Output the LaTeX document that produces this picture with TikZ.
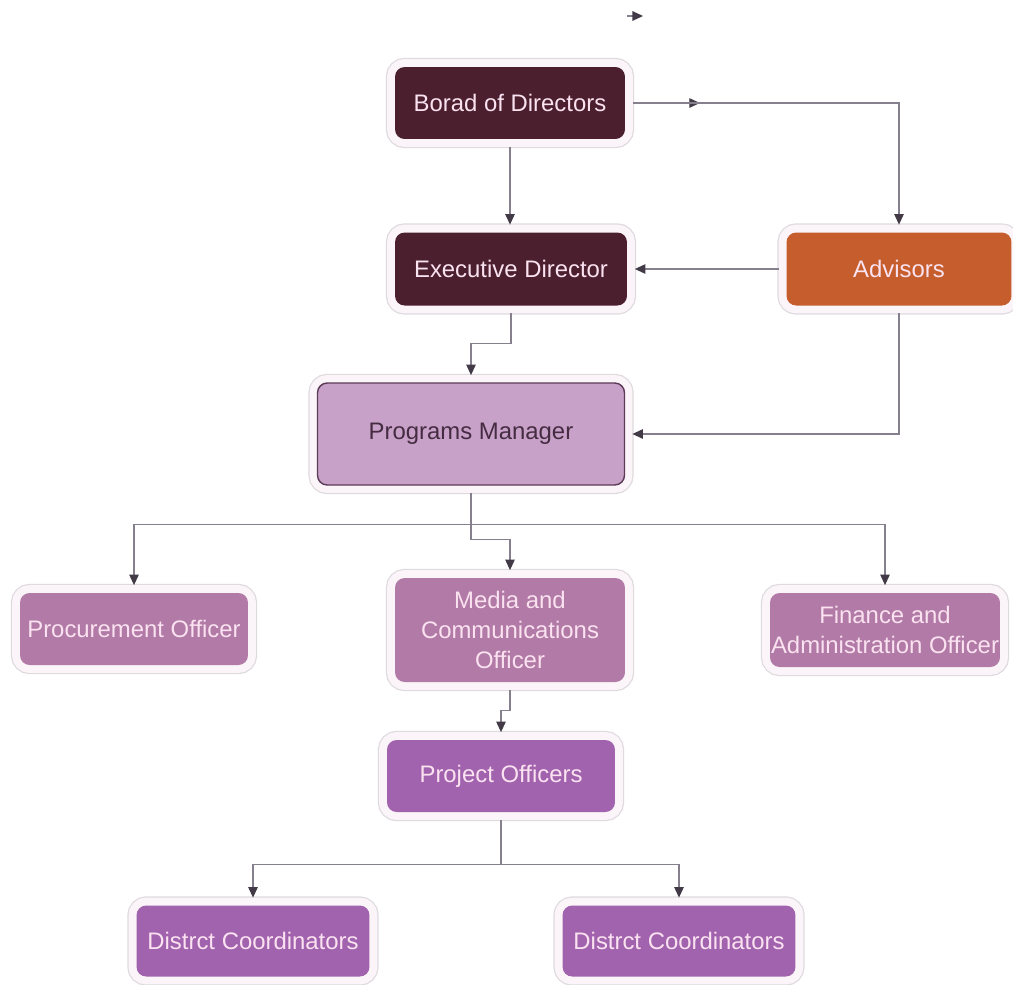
\documentclass[tikz,border=0pt]{standalone}
\usepackage{fontspec}
\setmainfont{Liberation Sans}
\usepackage{tikz}
\usetikzlibrary{arrows.meta}
\definecolor{darkbox}{RGB}{75,31,45}
\definecolor{advbox}{RGB}{197,94,44}
\definecolor{pmbox}{RGB}{200,161,200}
\definecolor{pmline}{RGB}{92,58,88}
\definecolor{midbox}{RGB}{178,122,166}
\definecolor{lowbox}{RGB}{162,99,174}
\definecolor{halofill}{RGB}{251,244,248}
\definecolor{haloedge}{RGB}{222,218,222}
\definecolor{connline}{RGB}{134,128,142}
\definecolor{conntip}{RGB}{66,58,70}
\definecolor{lighttext}{RGB}{250,226,240}
\tikzset{
	orgbox/.style={rectangle, rounded corners=5.5pt, inner sep=0pt, outer sep=4.5pt,
		minimum width=4.6cm, minimum height=1.44cm, align=center, text=lighttext,
		font=\fontsize{13.6}{17}\selectfont,
		preaction={draw=haloedge, line width=10.4pt},
		preaction={draw=halofill, line width=9pt}},
	conn/.style={draw=connline, line width=0.65pt,
		-{Triangle[length=6pt,width=5.4pt,color=conntip]}}
}

\begin{document}
\begin{tikzpicture}[x=0.02cm,y=-0.02cm]

	\useasboundingbox (0,0) rectangle (1013,984);

	% top rows
	\node[orgbox, fill=darkbox] (bod) at (510,103) {Borad of Directors};
	\node[orgbox, fill=darkbox, minimum width=4.64cm, minimum height=1.46cm] (exec) at (511,269) {Executive Director};
	\node[orgbox, fill=advbox, minimum width=4.5cm, minimum height=1.46cm] (adv) at (899,269) {Advisors};
	\node[orgbox, fill=pmbox, draw=pmline, line width=0.8pt, text=pmline!75!black,
		minimum width=6.14cm, minimum height=2.04cm] (pm) at (471,434) {Programs Manager};

	% officers
	\node[orgbox, fill=midbox, minimum width=4.56cm] (proc) at (134,629) {Procurement Officer};
	\node[orgbox, fill=midbox, minimum height=2.08cm] (media) at (510,630) {Media and\\Communications\\Officer};
	\node[orgbox, fill=midbox, minimum height=1.48cm] (fin) at (885,630) {Finance and\\Administration Officer};
	\node[orgbox, fill=lowbox, minimum width=4.56cm] (proj) at (501,776) {Project Officers};

	% district level
	\node[orgbox, fill=lowbox, minimum width=4.66cm, minimum height=1.42cm] (dc1) at (253,941) {Distrct Coordinators};
	\node[orgbox, fill=lowbox, minimum width=4.66cm, minimum height=1.42cm] (dc2) at (679,941) {Distrct Coordinators};

	\coordinate (stray) at (627,16);
	\draw[conn] (stray) -- ++(16,0);

	\draw[conn] (bod.south) -- (bod.south |- exec.north);
	\draw[conn] (bod.east) -- ++(67,0);
	\draw[conn] (bod.east) -| (adv.north);
	\draw[conn] (adv.west) -- (exec.east);
	\draw[conn] (exec.south) -- ++(0,30) -| (pm.north);
	\draw[conn] (adv.south) |- (pm.east);

	\draw[connline, line width=0.65pt] (pm.south) -- ++(0,32) coordinate (bus);
	\draw[conn] (bus) -| (proc.north);
	\draw[conn] (bus) -| (fin.north);
	\draw[conn] (pm.south) -- ++(0,47) -| (media.north);
	\draw[conn] (media.south) -- ++(0,21) -| (proj.north);

	\draw[connline, line width=0.65pt] (proj.south) -- ++(0,45) coordinate (split);
	\draw[conn] (split) -| (dc1.north);
	\draw[conn] (split) -| (dc2.north);

\end{tikzpicture}
\end{document}
